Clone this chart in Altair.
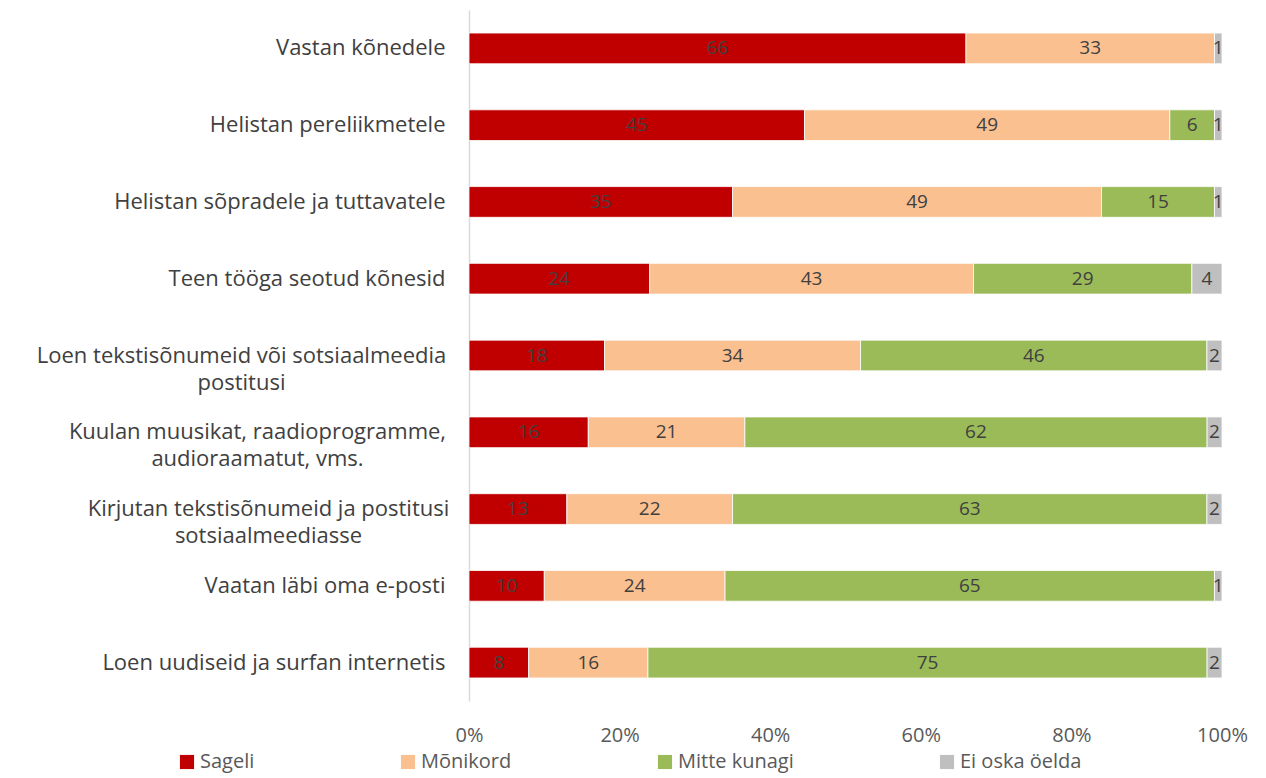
import altair as alt
import pandas as pd

questions = [
    "Vastan kõnedele",
    "Helistan pereliikmetele ",
    "Helistan sõpradele ja tuttavatele",
    "Teen tööga seotud kõnesid",
    "Loen tekstisõnumeid või sotsiaalmeedia|postitusi",
    "Kuulan muusikat, raadioprogramme,|audioraamatut, vms.",
    "Kirjutan tekstisõnumeid ja postitusi|sotsiaalmeediasse",
    "Vaatan läbi oma e-posti",
    "Loen uudiseid ja surfan internetis",
]
categories = ["Sageli", "Mõnikord", "Mitte kunagi", "Ei oska öelda"]
colors = ["#C00000", "#FAC090", "#9BBB59", "#BFBFBF"]

sageli = [66, 45, 35, 24, 18, 16, 13, 10, 8]
monikord = [33, 49, 49, 43, 34, 21, 22, 24, 16]
mitte_kunagi = [0, 6, 15, 29, 46, 62, 63, 65, 75]
ei_oska = [1, 1, 1, 4, 2, 2, 2, 1, 2]

rows = []
for i, q in enumerate(questions):
    for j, (cat, vals) in enumerate(zip(categories, [sageli, monikord, mitte_kunagi, ei_oska])):
        if vals[i] > 0:
            rows.append({"question": q, "category": cat, "value": vals[i], "order": j})
df = pd.DataFrame(rows)

FONT = "Open Sans"

base = alt.Chart(df).transform_stack(
    stack="value",
    as_=["x0", "x1"],
    groupby=["question"],
    offset="normalize",
    sort=[alt.SortField("order", order="ascending")],
).transform_calculate(mid="(datum.x0 + datum.x1) / 2")

multi = "indexof(datum.value, '|') >= 0"
line1 = "substring(datum.value, 0, indexof(datum.value, '|'))"
narrow = f"(length({line1}) - length(replace({line1}, regexp('[iljtf ,.]', 'g'), '')))"
est_width = f"(13.57 * (length({line1}) - {narrow}) + 4.6 * {narrow})"

y_enc = alt.Y(
    "question:N",
    sort=questions,
    title=None,
    scale=alt.Scale(paddingInner=0.6, paddingOuter=0.3),
    axis=alt.Axis(
        labelExpr="split(datum.label, '|')",
        labelFontSize=22,
        labelFont=FONT,
        labelColor="#404040",
        labelAlign={"condition": {"test": multi, "value": "center"}, "value": "right"},
        labelPadding=alt.ExprRef(f"{multi} ? 24 + {est_width} / 2 : 24"),
        labelLimit=600,
        labelLineHeight=27,
        ticks=False,
        domain=True,
        domainColor="#D9D9D9",
        domainWidth=1.5,
    ),
)

bars = base.mark_bar(stroke="white", strokeWidth=0.8).encode(
    y=y_enc,
    x=alt.X(
        "x0:Q",
        title=None,
        scale=alt.Scale(domain=[0, 1]),
        axis=alt.Axis(
            format="%",
            values=[0, 0.2, 0.4, 0.6, 0.8, 1.0],
            labelFontSize=20,
            labelFont=FONT,
            labelColor="#595959",
            labelPadding=24,
            labelFlush=False,
            domain=False,
            ticks=False,
            grid=False,
        ),
    ),
    x2="x1:Q",
    color=alt.Color(
        "category:N",
        sort=categories,
        scale=alt.Scale(domain=categories, range=colors),
        legend=alt.Legend(
            title=None,
            orient="none",
            direction="horizontal",
            columns=4,
            legendX=-292,
            legendY=742,
            symbolType="square",
            symbolSize=200,
            symbolStrokeWidth=0,
            labelFontSize=20,
            labelFont=FONT,
            labelColor="#595959",
            columnPadding=143,
            labelOffset=3,
        ),
    ),
)

labels = base.mark_text(fontSize=19, font=FONT, color="#404040").encode(
    y=alt.Y("question:N", sort=questions),
    x=alt.X("mid:Q"),
    text=alt.Text("value:Q"),
)

chart = (
    alt.layer(bars, labels)
    .properties(width=753, height=691, padding={"left": 28, "top": 2, "right": 5, "bottom": 12})
    .configure_view(stroke=None)
)

chart.save("out.html", embed_options={"renderer": "svg", "actions": False})
